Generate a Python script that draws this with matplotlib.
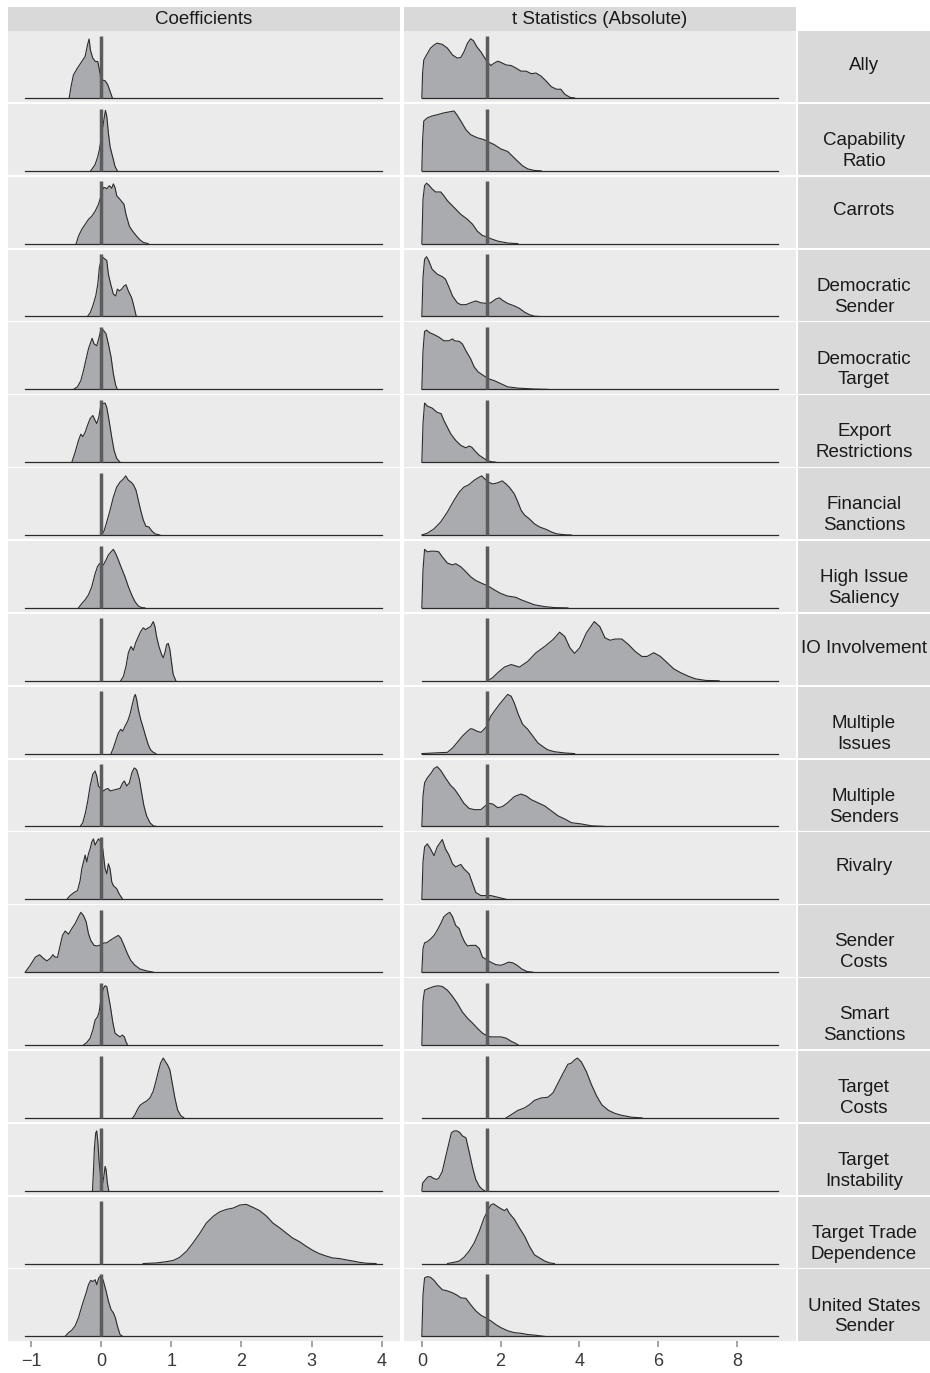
import matplotlib.pyplot as plt

plt.rcParams['font.family'] = ['Liberation Sans', 'DejaVu Sans']

# ---- data: density outlines (height relative to ref line) ----
ally_coef_x = [-0.455, -0.427, -0.394, -0.337, -0.275, -0.228, -0.194, -0.171, -0.152, -0.119, -0.081, -0.047, -0.024, 0.0, 0.057, 0.095, 0.128, 0.161]
ally_coef_d = [0, 0.19, 0.37, 0.48, 0.585, 0.665, 0.85, 0.947, 0.77, 0.64, 0.585, 0.585, 0.45, 0.29, 0.277, 0.213, 0.106, 0]
ally_t_x = [0, 0.02, 0.05, 0.12, 0.22, 0.31, 0.39, 0.52, 0.65, 0.78, 0.90, 0.99, 1.07, 1.16, 1.24, 1.31, 1.40, 1.50, 1.58, 1.65, 1.75, 1.84, 1.93, 2.01, 2.14, 2.27, 2.39, 2.52, 2.65, 2.78, 2.90, 3.03, 3.16, 3.29, 3.42, 3.53, 3.63, 3.76, 3.88]
ally_t_d = [0, 0.40, 0.61, 0.69, 0.80, 0.85, 0.88, 0.86, 0.80, 0.69, 0.64, 0.65, 0.74, 0.88, 0.95, 0.92, 0.82, 0.74, 0.66, 0.59, 0.52, 0.56, 0.59, 0.57, 0.53, 0.52, 0.48, 0.43, 0.43, 0.39, 0.40, 0.35, 0.27, 0.18, 0.14, 0.14, 0.06, 0.01, 0]

cap_coef_x = [-0.147, -0.085, -0.047, -0.024, 0.0, 0.033, 0.062, 0.081, 0.104, 0.128, 0.152, 0.175, 0.199, 0.232]
cap_coef_d = [0, 0.10, 0.23, 0.34, 0.50, 0.77, 0.97, 0.88, 0.61, 0.39, 0.28, 0.18, 0.07, 0]
cap_t_x = [0, 0.02, 0.05, 0.14, 0.26, 0.39, 0.56, 0.73, 0.82, 0.89, 0.99, 1.12, 1.24, 1.41, 1.58, 1.67, 1.84, 2.01, 2.18, 2.31, 2.44, 2.56, 2.69, 2.86, 3.03]
cap_t_d = [0, 0.50, 0.80, 0.85, 0.88, 0.90, 0.93, 0.95, 0.96, 0.90, 0.80, 0.66, 0.58, 0.53, 0.50, 0.47, 0.42, 0.35, 0.31, 0.23, 0.15, 0.08, 0.03, 0.005, 0]

carrots_coef_x = [-0.355, -0.322, -0.275, -0.227, -0.18, -0.133, -0.085, -0.038, 0.0, 0.033, 0.057, 0.081, 0.118, 0.152, 0.175, 0.199, 0.223, 0.27, 0.327, 0.355, 0.403, 0.45, 0.507, 0.555, 0.602, 0.673]
carrots_coef_d = [0, 0.12, 0.23, 0.31, 0.39, 0.44, 0.52, 0.63, 0.77, 0.90, 0.90, 0.88, 0.93, 0.89, 0.96, 0.90, 0.77, 0.71, 0.63, 0.47, 0.28, 0.20, 0.12, 0.06, 0.02, 0]
carrots_t_x = [0, 0.03, 0.07, 0.12, 0.18, 0.26, 0.35, 0.48, 0.56, 0.65, 0.82, 0.99, 1.16, 1.29, 1.41, 1.54, 1.65, 1.75, 1.93, 2.18, 2.44]
carrots_t_d = [0, 0.71, 0.93, 0.97, 0.94, 0.88, 0.83, 0.83, 0.77, 0.69, 0.58, 0.47, 0.39, 0.31, 0.20, 0.13, 0.11, 0.08, 0.04, 0.01, 0]

demsend_coef_x = [-0.194, -0.156, -0.118, -0.076, -0.047, -0.024, 0.014, 0.057, 0.081, 0.104, 0.137, 0.175, 0.209, 0.232, 0.261, 0.294, 0.327, 0.355, 0.389, 0.436, 0.46, 0.483, 0.502]
demsend_coef_d = [0, 0.06, 0.17, 0.33, 0.52, 0.79, 0.96, 0.92, 0.90, 0.68, 0.52, 0.36, 0.33, 0.44, 0.41, 0.44, 0.49, 0.51, 0.41, 0.30, 0.20, 0.09, 0]
demsend_t_x = [0, 0.03, 0.07, 0.12, 0.18, 0.26, 0.39, 0.52, 0.60, 0.69, 0.78, 0.90, 0.99, 1.12, 1.24, 1.37, 1.50, 1.65, 1.75, 1.88, 1.97, 2.05, 2.18, 2.35, 2.48, 2.61, 2.73, 2.86, 3.0]
demsend_t_d = [0, 0.63, 0.92, 0.96, 0.89, 0.76, 0.68, 0.64, 0.60, 0.47, 0.33, 0.22, 0.19, 0.19, 0.22, 0.25, 0.22, 0.21, 0.22, 0.28, 0.30, 0.26, 0.21, 0.17, 0.13, 0.07, 0.03, 0.005, 0]

demtarg_coef_x = [-0.393, -0.336, -0.289, -0.251, -0.213, -0.18, -0.128, -0.1, -0.062, -0.028, 0.0, 0.033, 0.071, 0.104, 0.142, 0.175, 0.209, 0.232]
demtarg_coef_d = [0, 0.04, 0.14, 0.30, 0.49, 0.65, 0.82, 0.73, 0.70, 0.84, 0.97, 0.95, 0.89, 0.73, 0.52, 0.25, 0.06, 0]
demtarg_t_x = [0, 0.03, 0.07, 0.12, 0.20, 0.31, 0.43, 0.56, 0.69, 0.78, 0.83, 0.95, 1.03, 1.12, 1.24, 1.33, 1.43, 1.57, 1.69, 1.84, 2.01, 2.18, 2.44, 2.86, 3.2]
demtarg_t_d = [0, 0.62, 0.93, 0.95, 0.91, 0.88, 0.84, 0.78, 0.78, 0.81, 0.78, 0.77, 0.73, 0.62, 0.49, 0.36, 0.28, 0.22, 0.17, 0.14, 0.09, 0.04, 0.02, 0.005, 0]

export_coef_x = [-0.417, -0.37, -0.322, -0.289, -0.261, -0.227, -0.194, -0.156, -0.118, -0.085, -0.062, -0.033, 0.0, 0.024, 0.057, 0.081, 0.114, 0.152, 0.185, 0.223, 0.27]
export_coef_d = [0, 0.16, 0.35, 0.45, 0.41, 0.48, 0.59, 0.70, 0.75, 0.67, 0.62, 0.72, 0.94, 0.94, 0.95, 0.88, 0.67, 0.40, 0.19, 0.06, 0]
export_t_x = [0, 0.03, 0.07, 0.14, 0.26, 0.39, 0.49, 0.56, 0.65, 0.73, 0.86, 0.99, 1.12, 1.20, 1.27, 1.35, 1.46, 1.58, 1.65, 1.75, 1.88]
export_t_d = [0, 0.62, 0.95, 0.90, 0.87, 0.80, 0.78, 0.67, 0.56, 0.46, 0.35, 0.27, 0.23, 0.26, 0.24, 0.18, 0.11, 0.06, 0.03, 0.01, 0]

fin_coef_x = [0.01, 0.043, 0.081, 0.128, 0.175, 0.223, 0.27, 0.318, 0.351, 0.389, 0.427, 0.46, 0.498, 0.531, 0.564, 0.602, 0.64, 0.682, 0.72, 0.768, 0.839]
fin_coef_d = [0, 0.07, 0.21, 0.40, 0.61, 0.77, 0.85, 0.90, 0.95, 0.88, 0.85, 0.81, 0.72, 0.56, 0.40, 0.24, 0.14, 0.13, 0.07, 0.02, 0]
fin_t_x = [0, 0.14, 0.31, 0.48, 0.65, 0.82, 0.95, 1.07, 1.20, 1.33, 1.46, 1.52, 1.60, 1.69, 1.80, 1.93, 2.04, 2.14, 2.22, 2.35, 2.44, 2.52, 2.61, 2.73, 2.86, 2.99, 3.16, 3.29, 3.42, 3.63, 3.80]
fin_t_d = [0, 0.03, 0.10, 0.21, 0.37, 0.56, 0.69, 0.77, 0.81, 0.88, 0.93, 0.95, 0.90, 0.85, 0.82, 0.84, 0.87, 0.82, 0.77, 0.66, 0.53, 0.40, 0.32, 0.26, 0.18, 0.13, 0.09, 0.05, 0.02, 0.005, 0]

issue_coef_x = [-0.322, -0.275, -0.227, -0.18, -0.133, -0.085, -0.052, -0.024, 0.0, 0.033, 0.071, 0.104, 0.142, 0.175, 0.209, 0.246, 0.294, 0.341, 0.389, 0.436, 0.483, 0.531, 0.578, 0.626]
issue_coef_d = [0, 0.07, 0.13, 0.21, 0.34, 0.55, 0.66, 0.71, 0.71, 0.69, 0.77, 0.85, 0.90, 0.94, 0.87, 0.77, 0.63, 0.50, 0.34, 0.21, 0.10, 0.03, 0.005, 0]
issue_t_x = [0, 0.03, 0.07, 0.14, 0.22, 0.35, 0.43, 0.52, 0.65, 0.78, 0.86, 0.99, 1.12, 1.24, 1.37, 1.54, 1.69, 1.84, 2.01, 2.18, 2.39, 2.52, 2.69, 2.86, 3.12, 3.37, 3.71]
issue_t_d = [0, 0.61, 0.94, 0.90, 0.91, 0.91, 0.90, 0.82, 0.72, 0.69, 0.71, 0.66, 0.58, 0.50, 0.44, 0.39, 0.35, 0.29, 0.23, 0.19, 0.17, 0.13, 0.09, 0.05, 0.02, 0.005, 0]

io_coef_x = [0.28, 0.318, 0.355, 0.389, 0.427, 0.46, 0.493, 0.531, 0.564, 0.602, 0.635, 0.673, 0.706, 0.744, 0.768, 0.791, 0.825, 0.863, 0.886, 0.91, 0.934, 0.957, 0.981, 1.005, 1.028, 1.066]
io_coef_d = [0, 0.07, 0.23, 0.45, 0.55, 0.49, 0.61, 0.71, 0.79, 0.85, 0.82, 0.85, 0.87, 0.95, 0.87, 0.71, 0.55, 0.42, 0.37, 0.45, 0.58, 0.60, 0.50, 0.29, 0.10, 0]
io_t_x = [1.67, 1.80, 1.93, 2.10, 2.27, 2.48, 2.69, 2.90, 3.12, 3.33, 3.50, 3.63, 3.76, 3.88, 4.01, 4.18, 4.38, 4.52, 4.65, 4.78, 4.91, 5.08, 5.25, 5.42, 5.59, 5.72, 5.89, 6.06, 6.23, 6.40, 6.57, 6.78, 6.95, 7.21, 7.55]
io_t_d = [0, 0.05, 0.13, 0.22, 0.26, 0.22, 0.31, 0.45, 0.55, 0.66, 0.78, 0.71, 0.53, 0.44, 0.53, 0.77, 0.95, 0.87, 0.69, 0.65, 0.67, 0.67, 0.58, 0.47, 0.39, 0.39, 0.45, 0.39, 0.29, 0.19, 0.13, 0.07, 0.03, 0.005, 0]

missues_coef_x = [0.142, 0.175, 0.213, 0.246, 0.28, 0.308, 0.341, 0.379, 0.412, 0.445, 0.474, 0.488, 0.507, 0.531, 0.564, 0.602, 0.635, 0.673, 0.706, 0.744, 0.782]
missues_coef_d = [0, 0.09, 0.22, 0.33, 0.39, 0.36, 0.44, 0.52, 0.63, 0.79, 0.92, 0.95, 0.87, 0.71, 0.55, 0.41, 0.28, 0.14, 0.06, 0.02, 0]
missues_t_x = [0, 0.31, 0.65, 0.78, 0.90, 1.03, 1.16, 1.24, 1.31, 1.40, 1.50, 1.58, 1.65, 1.75, 1.84, 1.97, 2.10, 2.18, 2.27, 2.35, 2.45, 2.56, 2.69, 2.82, 2.95, 3.08, 3.20, 3.37, 3.63, 3.88]
missues_t_d = [0, 0.01, 0.02, 0.09, 0.18, 0.28, 0.36, 0.40, 0.39, 0.36, 0.34, 0.39, 0.44, 0.60, 0.68, 0.79, 0.89, 0.95, 0.92, 0.81, 0.63, 0.47, 0.39, 0.28, 0.17, 0.11, 0.06, 0.03, 0.01, 0]

msend_coef_x = [-0.299, -0.261, -0.223, -0.19, -0.156, -0.118, -0.085, -0.062, -0.038, 0.0, 0.033, 0.071, 0.10, 0.128, 0.199, 0.27, 0.308, 0.332, 0.365, 0.403, 0.441, 0.474, 0.507, 0.545, 0.578, 0.611, 0.649, 0.697, 0.744, 0.791]
msend_coef_d = [0, 0.06, 0.22, 0.41, 0.65, 0.84, 0.89, 0.81, 0.65, 0.60, 0.57, 0.60, 0.61, 0.57, 0.59, 0.61, 0.70, 0.73, 0.65, 0.70, 0.87, 0.94, 0.91, 0.76, 0.54, 0.33, 0.17, 0.06, 0.01, 0]
msend_t_x = [0, 0.03, 0.07, 0.14, 0.24, 0.31, 0.39, 0.48, 0.60, 0.73, 0.83, 0.95, 1.07, 1.20, 1.33, 1.50, 1.63, 1.71, 1.80, 1.93, 2.05, 2.18, 2.35, 2.52, 2.65, 2.78, 2.95, 3.12, 3.29, 3.46, 3.63, 3.80, 4.05, 4.31, 4.65]
msend_t_d = [0, 0.49, 0.70, 0.78, 0.86, 0.93, 0.96, 0.90, 0.78, 0.66, 0.60, 0.49, 0.37, 0.29, 0.27, 0.27, 0.34, 0.37, 0.36, 0.30, 0.32, 0.38, 0.48, 0.52, 0.49, 0.43, 0.38, 0.33, 0.25, 0.17, 0.12, 0.06, 0.04, 0.01, 0]

rival_coef_x = [-0.488, -0.441, -0.384, -0.336, -0.299, -0.275, -0.251, -0.227, -0.204, -0.18, -0.156, -0.133, -0.109, -0.085, -0.062, -0.038, 0.0, 0.024, 0.057, 0.081, 0.104, 0.128, 0.152, 0.175, 0.223, 0.256, 0.308]
rival_coef_d = [0, 0.06, 0.11, 0.14, 0.30, 0.49, 0.60, 0.71, 0.60, 0.73, 0.81, 0.92, 0.97, 0.87, 0.92, 0.97, 0.92, 0.81, 0.49, 0.41, 0.57, 0.49, 0.28, 0.22, 0.17, 0.09, 0]
rival_t_x = [0, 0.03, 0.07, 0.14, 0.22, 0.31, 0.39, 0.52, 0.60, 0.69, 0.78, 0.86, 0.99, 1.07, 1.20, 1.29, 1.37, 1.50, 1.65, 1.75, 1.88, 2.01, 2.14]
rival_t_d = [0, 0.60, 0.84, 0.89, 0.81, 0.70, 0.84, 0.96, 0.81, 0.71, 0.57, 0.52, 0.56, 0.49, 0.41, 0.25, 0.11, 0.06, 0.06, 0.06, 0.04, 0.02, 0]

scost_coef_x = [-1.081, -1.01, -0.938, -0.877, -0.82, -0.773, -0.725, -0.687, -0.654, -0.621, -0.583, -0.55, -0.512, -0.464, -0.417, -0.37, -0.322, -0.289, -0.251, -0.213, -0.18, -0.147, -0.1, -0.052, 0.0, 0.043, 0.081, 0.128, 0.199, 0.246, 0.28, 0.327, 0.374, 0.422, 0.483, 0.555, 0.649, 0.744]
scost_coef_d = [0, 0.11, 0.24, 0.28, 0.22, 0.18, 0.22, 0.28, 0.24, 0.24, 0.43, 0.59, 0.66, 0.61, 0.70, 0.78, 0.89, 0.96, 0.91, 0.81, 0.62, 0.51, 0.43, 0.42, 0.44, 0.47, 0.47, 0.51, 0.56, 0.59, 0.55, 0.43, 0.30, 0.19, 0.11, 0.05, 0.02, 0]
scost_t_x = [0, 0.03, 0.07, 0.14, 0.22, 0.31, 0.39, 0.48, 0.56, 0.65, 0.71, 0.78, 0.86, 0.95, 1.01, 1.09, 1.16, 1.24, 1.37, 1.46, 1.54, 1.65, 1.75, 1.88, 2.01, 2.10, 2.20, 2.31, 2.42, 2.54, 2.67, 2.82]
scost_t_d = [0, 0.38, 0.47, 0.49, 0.53, 0.59, 0.67, 0.78, 0.89, 0.94, 0.96, 0.89, 0.75, 0.70, 0.59, 0.48, 0.42, 0.43, 0.43, 0.38, 0.24, 0.20, 0.16, 0.12, 0.11, 0.13, 0.16, 0.15, 0.11, 0.05, 0.01, 0]

smart_coef_x = [-0.251, -0.204, -0.156, -0.118, -0.085, -0.052, -0.028, 0.0, 0.033, 0.057, 0.081, 0.104, 0.137, 0.166, 0.199, 0.232, 0.27, 0.303, 0.332, 0.355, 0.379]
smart_coef_d = [0, 0.04, 0.11, 0.24, 0.40, 0.45, 0.53, 0.75, 0.91, 0.95, 0.94, 0.80, 0.59, 0.37, 0.19, 0.16, 0.13, 0.16, 0.13, 0.05, 0]
smart_t_x = [0, 0.03, 0.07, 0.18, 0.31, 0.41, 0.52, 0.65, 0.78, 0.90, 1.03, 1.16, 1.29, 1.41, 1.54, 1.65, 1.75, 1.88, 2.01, 2.14, 2.27, 2.37, 2.45]
smart_t_d = [0, 0.70, 0.88, 0.91, 0.94, 0.95, 0.94, 0.88, 0.78, 0.67, 0.53, 0.43, 0.35, 0.27, 0.19, 0.15, 0.13, 0.13, 0.13, 0.11, 0.06, 0.03, 0]

tcost_coef_x = [0.45, 0.483, 0.517, 0.555, 0.602, 0.649, 0.697, 0.744, 0.782, 0.815, 0.848, 0.886, 0.919, 0.948, 0.981, 1.014, 1.052, 1.09, 1.133, 1.18]
tcost_coef_d = [0, 0.05, 0.13, 0.20, 0.24, 0.27, 0.32, 0.43, 0.59, 0.74, 0.88, 0.96, 0.90, 0.85, 0.77, 0.56, 0.32, 0.13, 0.04, 0]
tcost_t_x = [2.14, 2.27, 2.44, 2.61, 2.73, 2.86, 3.03, 3.20, 3.33, 3.46, 3.59, 3.71, 3.80, 3.88, 3.95, 4.05, 4.18, 4.31, 4.44, 4.57, 4.74, 4.91, 5.08, 5.33, 5.59]
tcost_t_d = [0, 0.05, 0.12, 0.16, 0.21, 0.28, 0.32, 0.33, 0.40, 0.56, 0.72, 0.86, 0.88, 0.93, 0.96, 0.90, 0.74, 0.53, 0.35, 0.21, 0.12, 0.07, 0.04, 0.01, 0]

instab_coef_x = [-0.123, -0.109, -0.095, -0.076, -0.062, -0.047, -0.028, -0.014, 0.0, 0.024, 0.043, 0.057, 0.071, 0.09, 0.109]
instab_coef_d = [0, 0.31, 0.69, 0.93, 0.96, 0.80, 0.47, 0.31, 0.12, 0.12, 0.26, 0.39, 0.34, 0.12, 0]
instab_t_x = [0, 0.02, 0.07, 0.15, 0.22, 0.29, 0.37, 0.43, 0.52, 0.60, 0.69, 0.75, 0.82, 0.90, 0.97, 1.03, 1.12, 1.20, 1.29, 1.37, 1.46, 1.54, 1.60]
instab_t_d = [0, 0.12, 0.16, 0.22, 0.23, 0.20, 0.18, 0.20, 0.31, 0.53, 0.77, 0.93, 0.96, 0.96, 0.93, 0.88, 0.85, 0.63, 0.37, 0.18, 0.07, 0.02, 0]

trade_coef_x = [0.60, 0.79, 0.93, 1.03, 1.12, 1.22, 1.31, 1.41, 1.50, 1.60, 1.69, 1.79, 1.88, 1.98, 2.07, 2.17, 2.26, 2.36, 2.45, 2.55, 2.64, 2.73, 2.83, 2.92, 3.02, 3.11, 3.21, 3.30, 3.40, 3.49, 3.59, 3.68, 3.78, 3.92]
trade_coef_d = [0, 0.01, 0.03, 0.05, 0.10, 0.20, 0.33, 0.49, 0.65, 0.76, 0.83, 0.87, 0.89, 0.94, 0.95, 0.90, 0.85, 0.76, 0.65, 0.57, 0.49, 0.41, 0.35, 0.28, 0.21, 0.16, 0.12, 0.09, 0.08, 0.06, 0.04, 0.02, 0.005, 0]
trade_t_x = [0.65, 0.82, 0.95, 1.07, 1.20, 1.33, 1.46, 1.58, 1.67, 1.75, 1.82, 1.91, 2.01, 2.10, 2.16, 2.22, 2.35, 2.48, 2.61, 2.73, 2.86, 2.99, 3.12, 3.25, 3.37]
trade_t_d = [0, 0.02, 0.04, 0.10, 0.20, 0.33, 0.52, 0.73, 0.84, 0.94, 0.96, 0.92, 0.88, 0.85, 0.88, 0.81, 0.71, 0.57, 0.44, 0.28, 0.14, 0.09, 0.04, 0.01, 0]

us_coef_x = [-0.512, -0.464, -0.417, -0.37, -0.322, -0.289, -0.251, -0.213, -0.18, -0.147, -0.118, -0.085, -0.062, -0.033, 0.0, 0.033, 0.071, 0.104, 0.142, 0.175, 0.204, 0.232, 0.27, 0.308]
us_coef_d = [0, 0.06, 0.10, 0.17, 0.30, 0.43, 0.57, 0.70, 0.83, 0.90, 0.88, 0.91, 0.83, 0.94, 0.98, 0.89, 0.73, 0.57, 0.43, 0.38, 0.30, 0.17, 0.03, 0]
us_t_x = [0, 0.03, 0.07, 0.14, 0.22, 0.31, 0.41, 0.52, 0.65, 0.78, 0.90, 0.99, 1.12, 1.24, 1.37, 1.50, 1.65, 1.75, 1.88, 2.01, 2.18, 2.35, 2.52, 2.69, 2.86, 3.12]
us_t_d = [0, 0.67, 0.94, 0.96, 0.95, 0.90, 0.82, 0.75, 0.73, 0.70, 0.66, 0.62, 0.61, 0.51, 0.41, 0.34, 0.29, 0.25, 0.19, 0.14, 0.09, 0.06, 0.05, 0.03, 0.02, 0]

labels = ["Ally", "Capability\nRatio", "Carrots", "Democratic\nSender", "Democratic\nTarget",
          "Export\nRestrictions", "Financial\nSanctions", "High Issue\nSaliency", "IO Involvement",
          "Multiple\nIssues", "Multiple\nSenders", "Rivalry", "Sender\nCosts", "Smart\nSanctions",
          "Target\nCosts", "Target\nInstability", "Target Trade\nDependence", "United States\nSender"]
coef_curves = [(ally_coef_x, ally_coef_d), (cap_coef_x, cap_coef_d), (carrots_coef_x, carrots_coef_d),
               (demsend_coef_x, demsend_coef_d), (demtarg_coef_x, demtarg_coef_d), (export_coef_x, export_coef_d),
               (fin_coef_x, fin_coef_d), (issue_coef_x, issue_coef_d), (io_coef_x, io_coef_d),
               (missues_coef_x, missues_coef_d), (msend_coef_x, msend_coef_d), (rival_coef_x, rival_coef_d),
               (scost_coef_x, scost_coef_d), (smart_coef_x, smart_coef_d), (tcost_coef_x, tcost_coef_d),
               (instab_coef_x, instab_coef_d), (trade_coef_x, trade_coef_d), (us_coef_x, us_coef_d)]
t_curves = [(ally_t_x, ally_t_d), (cap_t_x, cap_t_d), (carrots_t_x, carrots_t_d),
            (demsend_t_x, demsend_t_d), (demtarg_t_x, demtarg_t_d), (export_t_x, export_t_d),
            (fin_t_x, fin_t_d), (issue_t_x, issue_t_d), (io_t_x, io_t_d),
            (missues_t_x, missues_t_d), (msend_t_x, msend_t_d), (rival_t_x, rival_t_d),
            (scost_t_x, scost_t_d), (smart_t_x, smart_t_d), (tcost_t_x, tcost_t_d),
            (instab_t_x, instab_t_d), (trade_t_x, trade_t_d), (us_t_x, us_t_d)]

col_titles = ["Coefficients", "t Statistics (Absolute)"]
col_range = [(-1.08, 4.0), (0.0, 9.05)]   # range the densities were evaluated over
col_ref = [0.0, 1.645]                     # reference lines
col_ticks = [[-1, 0, 1, 2, 3, 4], [0, 2, 4, 6, 8]]

# ---- layout (pixels) ----
W, H = 930, 1373
fig = plt.figure(figsize=(W / 100, H / 100), dpi=100)

def px_axes(x0, y0, w, h):
    return fig.add_axes([x0 / W, 1 - (y0 + h) / H, w / W, h / H])

col_left = [7.5, 404.0]
col_w = 392.0
strip_x, strip_w = 798.0, 132.0
top0, pitch, row_h = 31.0, 72.85, 71.3

panel_bg = '#EBEBEB'
strip_bg = '#D9D9D9'
fill_col = '#AAABAF'
line_col = '#2B2B2B'
vline_col = '#5C5C5C'

for j in range(2):
    ax = px_axes(col_left[j], 7.0, col_w, 24.0)
    ax.set_facecolor(strip_bg)
    ax.set_xticks([]); ax.set_yticks([])
    for s in ax.spines.values():
        s.set_visible(False)
    ax.text(0.5, 0.47, col_titles[j], ha='center', va='center', fontsize=13.5,
            color='#1A1A1A', transform=ax.transAxes)

n = len(labels)
for i in range(n):
    top = top0 + i * pitch
    for j, curves in enumerate([coef_curves, t_curves]):
        x, d = curves[i]
        ax = px_axes(col_left[j], top, col_w, row_h)
        ax.set_facecolor(panel_bg)
        ax.fill_between(x, 0, d, color=fill_col, lw=0, zorder=2)
        ax.plot(x, d, color=line_col, lw=0.8, zorder=3)
        ax.plot(col_range[j], [0, 0], color=line_col, lw=0.9, zorder=3)
        ax.plot([col_ref[j], col_ref[j]], [0, 1], color=vline_col, lw=2.5,
                solid_capstyle='butt', zorder=4)
        lo, hi = col_range[j]
        pad = (hi - lo) * 0.05
        ax.set_xlim(lo - pad, hi + pad)
        ax.set_ylim(-0.07, 1.075)
        ax.set_yticks([])
        for s in ax.spines.values():
            s.set_visible(False)
        if i == n - 1:
            ax.set_xticks(col_ticks[j])
            ax.tick_params(axis='x', length=4, width=1.1, color='#8C8C8C',
                           labelsize=13, labelcolor='#3A3A3A', pad=5)
        else:
            ax.set_xticks([])

    sax = px_axes(strip_x, top, strip_w, row_h)
    sax.set_facecolor(strip_bg)
    sax.set_xticks([]); sax.set_yticks([])
    for s in sax.spines.values():
        s.set_visible(False)
    ty = 0.34 if '\n' in labels[i] else 0.52
    sax.text(0.5, ty, labels[i], ha='center', va='center', fontsize=13.5,
             color='#1A1A1A', linespacing=1.3, transform=sax.transAxes)

plt.savefig('out.png', dpi=100)
